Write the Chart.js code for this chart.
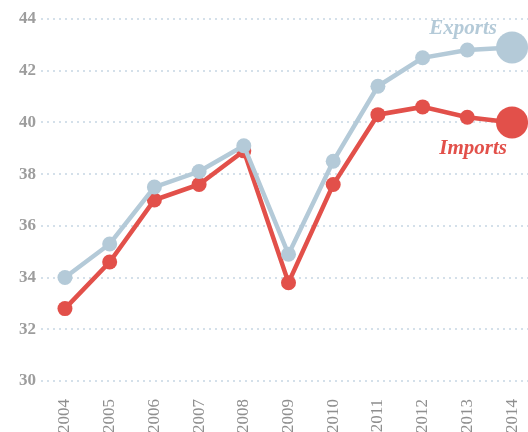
<!DOCTYPE html>
<html><head><meta charset="utf-8">
<script src="https://cdn.jsdelivr.net/npm/chart.js@4"></script>
<style>html,body{margin:0;padding:0;background:#fff}#wrap{width:528px;height:432px}</style>
</head><body><div id="wrap"><canvas id="c" width="528" height="432"></canvas></div>
<script>
const years = [2004,2005,2006,2007,2008,2009,2010,2011,2012,2013,2014];
const exportsVals = [34.0,35.3,37.5,38.1,39.1,34.9,38.5,41.4,42.5,42.8,42.9];
const importsVals = [32.8,34.6,37.0,37.6,38.9,33.8,37.6,40.3,40.6,40.2,40.0];
const yTicks = [30,32,34,36,38,40,42,44];
const seriesNames = ['Exports','Imports'];

const EXP = '#b4cad8', IMP = '#e2504a';
const radii = years.map((y,i)=> i===years.length-1 ? 16 : 7.5);

const labelPlugin = {
  id:'endLabels',
  afterDatasetsDraw(chart){
    const ctx = chart.ctx;
    ctx.save();
    ctx.font = 'italic bold 21px "Liberation Serif", serif';
    ctx.textAlign = 'right';
    ctx.textBaseline = 'middle';
    const m0 = chart.getDatasetMeta(0).data, m1 = chart.getDatasetMeta(1).data;
    const p0 = m0[m0.length-1], p1 = m1[m1.length-1];
    ctx.fillStyle = EXP;
    ctx.fillText(seriesNames[0], p0.x-15, p0.y-19);
    ctx.fillStyle = IMP;
    ctx.fillText(seriesNames[1], p1.x-5, p1.y+26);
    ctx.restore();
  }
};

new Chart(document.getElementById('c'), {
  type:'line',
  data:{
    datasets:[
      {label:seriesNames[0], data:years.map((y,i)=>({x:y,y:exportsVals[i]})), borderColor:EXP, backgroundColor:EXP,
       borderWidth:4.5, pointRadius:radii, pointHoverRadius:radii, pointBorderWidth:0, tension:0, clip:false},
      {label:seriesNames[1], data:years.map((y,i)=>({x:y,y:importsVals[i]})), borderColor:IMP, backgroundColor:IMP,
       borderWidth:4.5, pointRadius:radii, pointHoverRadius:radii, pointBorderWidth:0, tension:0, clip:false}
    ]
  },
  options:{
    responsive:false, animation:false,
    layout:{autoPadding:false, padding:{top:19,left:0,right:0,bottom:0}},
    plugins:{legend:{display:false}, tooltip:{enabled:false}},
    scales:{
      x:{type:'linear', min:2003.464, max:2014.357,
        afterBuildTicks(s){ s.ticks = years.map(v=>({value:v})); },
        afterFit(s){ s.height = 51; s.paddingLeft = 0; s.paddingRight = 0; },
        grid:{display:false}, border:{display:false},
        ticks:{autoSkip:false, minRotation:90, maxRotation:90, padding:10, color:'#8f8f8f',
          font:{family:'"Liberation Serif", serif', size:17}, callback:v=>String(v)}
      },
      y:{min:30, max:44,
        afterBuildTicks(s){ s.ticks = yTicks.map(v=>({value:v})); },
        afterFit(s){ s.width = 41; s.paddingTop = 0; s.paddingBottom = 0; },
        border:{display:false, dash:[2,4]},
        grid:{color:'#d4e0ea', lineWidth:2, drawTicks:false},
        ticks:{padding:5, color:'#9d9d9d', font:{family:'"Liberation Serif", serif', size:17, weight:'bold'}}
      }
    }
  },
  plugins:[labelPlugin]
});
</script></body></html>
